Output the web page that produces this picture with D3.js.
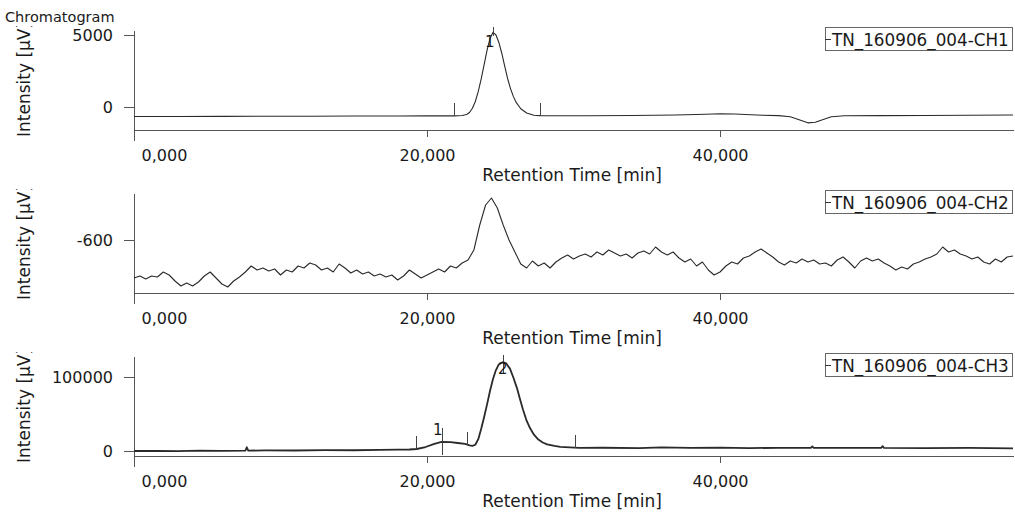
<!DOCTYPE html>
<html lang="en">
<head>
<meta charset="UTF-8">
<title>Chromatogram</title>
<script src="https://d3js.org/d3.v7.min.js"></script>
<style>
  body { margin: 0; background: #fff; }
  svg text { font-family: "DejaVu Sans", Verdana, sans-serif; fill: #1a1a1a; }
  .axis path, .axis line { stroke: #555; shape-rendering: crispEdges; }
  .axis text { font-size: 16px; font-family: "DejaVu Sans", Verdana, sans-serif; fill: #1a1a1a; }
  .trace { fill: none; stroke: #2a2a2a; stroke-linejoin: round; }
  .mark { stroke: #444; stroke-width: 1; shape-rendering: crispEdges; }
  .legend-box { fill: #fff; stroke: #666; shape-rendering: crispEdges; }
</style>
</head>
<body>
<div id="chart"></div>
<script>
// x axis (retention time)
const xTickValues = [0, 20000, 40000];
const xTickLabels = ["0,000", "20,000", "40,000"];

const legendNames = ["TN_160906_004-CH1", "TN_160906_004-CH2", "TN_160906_004-CH3"];

// CH1 - smooth trace, one peak and a small negative dip
const ch1Time = [0, 3000, 6000, 9000, 12000, 15000, 18000, 20000, 21850, 22400,
  22700, 22900, 23100, 23300, 23500, 23700, 23900, 24100, 24300, 24500,
  24700, 24900, 25100, 25300, 25500, 25700, 25900, 26100, 26400, 26800,
  27300, 27700, 28500, 31000, 34000, 37000, 39000, 40000, 41000, 42500,
  44000, 44800, 45400, 46000, 46500, 47000, 47600, 48500, 51000, 54000,
  57000, 60000];
const ch1Value = [-660, -665, -650, -645, -640, -630, -625, -620, -615, -590,
  -520, -380, -90, 380, 1080, 1950, 2950, 3950, 4750, 5180,
  5020, 4500, 3750, 2850, 1980, 1280, 720, 300, -120, -420,
  -570, -600, -610, -605, -590, -560, -500, -470, -490, -560,
  -600, -680, -880, -1100, -1060, -880, -680, -610, -600, -590,
  -575, -560];
const ch1YTicks = [0, 5000];
const ch1Marks = [21850, 27700];
const ch1Apex = [24500];
const ch1ApexLabels = ["1"];

// CH2 - noisy trace, sampled every 400
const ch2Time = d3.range(151).map(i => i * 400);
const ch2Value = [-714, -708, -717, -708, -711, -696, -705, -723, -738, -729,
  -738, -726, -708, -696, -714, -732, -741, -723, -711, -696,
  -678, -690, -684, -693, -687, -705, -690, -696, -678, -684,
  -669, -675, -690, -684, -696, -672, -684, -699, -690, -702,
  -696, -708, -702, -711, -705, -720, -708, -690, -702, -714,
  -705, -696, -687, -696, -678, -684, -669, -660, -630, -555,
  -495, -474, -504, -555, -600, -636, -672, -684, -663, -678,
  -669, -684, -666, -654, -645, -657, -648, -642, -651, -636,
  -645, -630, -639, -648, -642, -654, -639, -633, -642, -621,
  -636, -645, -636, -654, -666, -657, -678, -666, -690, -705,
  -696, -678, -666, -672, -654, -648, -636, -627, -639, -651,
  -666, -675, -663, -669, -657, -666, -660, -672, -669, -678,
  -660, -651, -666, -684, -663, -654, -663, -657, -669, -678,
  -690, -681, -687, -672, -666, -657, -651, -642, -621, -636,
  -630, -642, -648, -657, -651, -666, -672, -657, -666, -651,
  -648];
const ch2YTicks = [-600];

// CH3 - two peaks
const ch3Time = [0, 1500, 3000, 4500, 6000, 7600, 7700, 7800, 9000, 11000,
  13000, 15000, 16800, 18000, 18800, 19300, 19900, 20500, 21000, 21600,
  22100, 22600, 22900, 23100, 23300, 23500, 23700, 23900, 24100, 24300,
  24500, 24700, 24900, 25190, 25400, 25670, 25900, 26140, 26350, 26550,
  26800, 27030, 27300, 27600, 27900, 28200, 28700, 29100, 30400, 32000,
  34500, 36000, 38000, 40000, 42000, 44000, 46200, 46300, 46400, 48000,
  51000, 51100, 51200, 54000, 57000, 60000];
const ch3Value = [0, 300, -200, 400, 200, 600, 5000, 500, 900, 700,
  1200, 1000, 1400, 1800, 2000, 2700, 5400, 9500, 12200, 12000,
  10800, 9500, 7500, 6900, 8500, 16000, 30000, 46000, 63000, 81000,
  97000, 109000, 117000, 120200, 118500, 111000, 99000, 85000, 70000, 56000,
  41000, 31000, 22000, 15500, 11500, 9000, 6800, 5600, 4100, 4400,
  4000, 4800, 4200, 4600, 3900, 4300, 4200, 6200, 4300, 4100,
  4200, 6500, 4100, 3800, 4200, 3600];
const ch3YTicks = [0, 100000];
const ch3Marks = [19250, 22730, 30100];
const ch3Apex = [21000, 25190];
const ch3ApexLabels = ["1", "2"];

const panels = [
  { time: ch1Time, value: ch1Value, yDomain: [-2292, 5347], yTicks: ch1YTicks,
    marks: ch1Marks, apex: ch1Apex, apexLabels: ch1ApexLabels, lw: 1.1,
    apexStyle: [{ up: 5, down: 4, dx: 1, dy: 15 }] },
  { time: ch2Time, value: ch2Value, yDomain: [-789, -459], yTicks: ch2YTicks,
    marks: [], apex: [], apexLabels: [], lw: 1.1, apexStyle: [] },
  { time: ch3Time, value: ch3Value, yDomain: [-20270, 128378], yTicks: ch3YTicks,
    marks: ch3Marks, apex: ch3Apex, apexLabels: ch3ApexLabels, lw: 1.8,
    apexStyle: [{ up: 14, down: 13, dx: 0, dy: -7 }, { up: 7, down: 11, dx: 4, dy: 12 }] }
];

const width = 1015, height = 512, panelH = 163;

const svg = d3.select("#chart").append("svg")
  .attr("width", width)
  .attr("height", height);

svg.append("defs").append("clipPath")
  .attr("id", "ylab-clip")
  .append("rect")
  .attr("x", 0).attr("y", 26).attr("width", 60).attr("height", 130);

svg.append("text")
  .attr("x", 5).attr("y", 22)
  .attr("font-size", 14.5)
  .text("Chromatogram");

const x = d3.scaleLinear().domain([0, 60000]).range([134, 1013]);

panels.forEach((p, i) => {
  const g = svg.append("g").attr("transform", `translate(0,${i * panelH})`);
  const y = d3.scaleLinear().domain(p.yDomain).range([140, 30]);

  // x axis
  const gx = g.append("g")
    .attr("class", "axis")
    .attr("transform", "translate(0,130)")
    .call(d3.axisBottom(x)
      .tickValues(xTickValues)
      .tickFormat((d, k) => xTickLabels[k])
      .tickSize(7)
      .tickSizeOuter(0)
      .tickPadding(13));
  gx.attr("font-size", null).attr("font-family", null);
  gx.selectAll(".tick text").filter(d => d === 0)
    .attr("text-anchor", "start")
    .attr("x", 7);

  // y axis
  const gy = g.append("g")
    .attr("class", "axis")
    .attr("transform", "translate(134,0)")
    .call(d3.axisLeft(y)
      .tickValues(p.yTicks)
      .tickFormat(d => String(d))
      .tickSize(10)
      .tickSizeOuter(0)
      .tickPadding(11));
  gy.attr("font-size", null).attr("font-family", null);

  g.append("text")
    .attr("x", 572).attr("y", 181)
    .attr("text-anchor", "middle")
    .attr("font-size", 17)
    .text("Retention Time [min]");

  g.append("g")
    .attr("clip-path", "url(#ylab-clip)")
    .append("text")
    .attr("transform", "translate(30,137) rotate(-90)")
    .attr("font-size", 17)
    .text("Intensity [µV]");

  // trace
  const line = d3.line()
    .x((d, k) => x(p.time[k]))
    .y(d => y(d));
  g.append("path")
    .datum(p.value)
    .attr("class", "trace")
    .attr("stroke-width", p.lw)
    .attr("d", line);

  // trace value at a given time (for placing peak markers)
  const valueAt = t => {
    const k = Math.max(1, Math.min(p.time.length - 1, d3.bisectLeft(p.time, t)));
    const t0 = p.time[k - 1], t1 = p.time[k];
    const f = (t - t0) / (t1 - t0);
    return p.value[k - 1] + f * (p.value[k] - p.value[k - 1]);
  };

  p.marks.forEach(t => {
    const yy = y(valueAt(t));
    g.append("line").attr("class", "mark")
      .attr("x1", Math.round(x(t)) + 0.5).attr("x2", Math.round(x(t)) + 0.5)
      .attr("y1", yy).attr("y2", yy - 13);
  });

  p.apex.forEach((t, k) => {
    const s = p.apexStyle[k];
    const yy = y(valueAt(t));
    const xx = Math.round(x(t)) + 0.5;
    g.append("line").attr("class", "mark")
      .attr("x1", xx).attr("x2", xx)
      .attr("y1", yy - s.up).attr("y2", yy + s.down);
    g.append("text")
      .attr("x", xx + s.dx).attr("y", yy + s.dy)
      .attr("text-anchor", "end")
      .attr("font-size", 15)
      .text(p.apexLabels[k]);
  });

  // legend
  g.append("rect").attr("class", "legend-box")
    .attr("x", 825.5).attr("y", 27.5)
    .attr("width", 187).attr("height", 23);
  g.append("line")
    .attr("x1", 825).attr("x2", 831)
    .attr("y1", 39.5).attr("y2", 39.5)
    .attr("stroke", "#333");
  g.append("text")
    .attr("x", 832).attr("y", 45.5)
    .attr("font-size", 16.8)
    .text(legendNames[i]);
});
</script>
</body>
</html>
